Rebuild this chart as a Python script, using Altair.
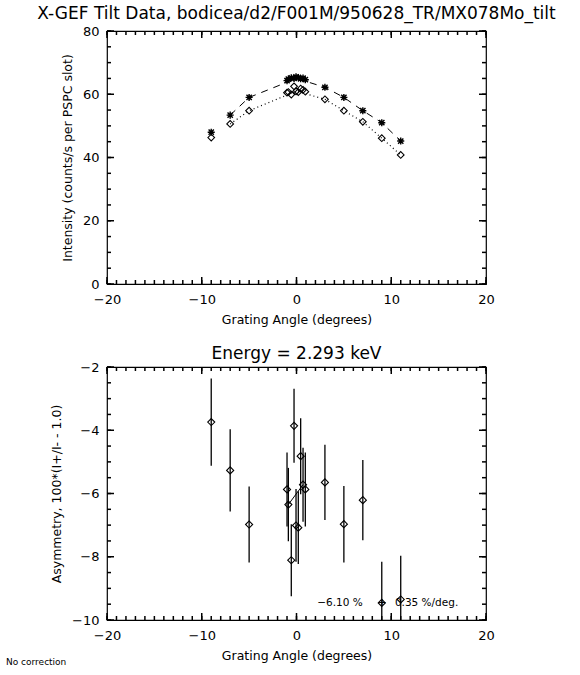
import altair as alt
import pandas as pd

# ---------------- data ----------------
ang = [-9, -7, -5, -1, -0.86, -0.55, -0.26, -0.05, 0.19, 0.44, 0.69, 0.93, 3, 5, 7, 9, 11]
i_minus = [48.0, 53.4, 59.0, 64.3, 64.8, 65.2, 65.0, 65.5, 65.3, 64.9, 65.1, 64.6, 62.2, 59.0, 54.8, 51.0, 45.2]
i_plus = [46.3, 50.6, 54.8, 60.5, 60.7, 59.9, 62.5, 60.9, 60.7, 61.8, 61.4, 60.8, 58.4, 54.8, 51.3, 46.1, 40.8]
asym = [-3.74, -5.27, -6.98, -5.87, -6.35, -8.11, -3.86, -7.01, -7.08, -4.82, -5.72, -5.87, -5.65, -6.97, -6.21, -9.46, -9.35]
asym_err = [1.38, 1.30, 1.20, 1.17, 1.16, 1.14, 1.17, 1.15, 1.15, 1.20, 1.17, 1.17, 1.19, 1.21, 1.27, 1.30, 1.38]

line_ang = [-7, -5, 0, 3, 5, 7, 9, 11]
line_minus = [53.4, 59.0, 65.0, 62.2, 59.0, 54.8, 51.0, 45.2]
line_plus = [50.6, 54.8, 61.0, 58.4, 54.8, 51.3, 46.1, 40.8]

seg_ang = [-0.86, 0.69]
seg_asym = [-6.35, -5.72]

ann_text = ["\u22126.10 %", "+", "0.35 %/deg."]
ann_x = [2.5, 8.9, 10.7]
ann_y = [-9.46, -9.46, -9.46]

x_major = [-20, -10, 0, 10, 20]
x_minor = list(range(-20, 21))
top_y_major = [0, 20, 40, 60, 80]
top_y_minor = list(range(0, 81, 5))
bot_y_major = [-10, -8, -6, -4, -2]
bot_y_minor = [-10 + 0.5 * k for k in range(17)]

TITLE_TOP = "X-GEF Tilt Data, bodicea/d2/F001M/950628_TR/MX078Mo_tilt"
TITLE_BOT = "Energy = 2.293 keV"
XTITLE = "Grating Angle (degrees)"
YTITLE_TOP = "Intensity (counts/s per PSPC slot)"
YTITLE_BOT = "Asymmetry, 100*(I+/I- - 1.0)"
NOTE = "No correction"

# ---------------- tables ----------------
pts = pd.DataFrame({"ang": ang, "imin": i_minus, "iplus": i_plus,
                    "asym": asym, "err": asym_err})
pts["lo"] = pts["asym"] - pts["err"]
pts["hi"] = pts["asym"] + pts["err"]
lines = pd.DataFrame({"ang": line_ang, "imin": line_minus, "iplus": line_plus})
seg = pd.DataFrame({"ang": seg_ang, "asym": seg_asym})
ann = pd.DataFrame({"t": ann_text, "ang": ann_x, "asym": ann_y})

W, H = 379, 253
FONT = "DejaVu Sans"
STAR = "M-1,0L1,0M0,-1L0,1M-0.75,-0.75L0.75,0.75M-0.75,0.75L0.75,-0.75"
MAJ, MIN = 7, 4
XD = [-20, 20]

xs = alt.Scale(domain=XD, nice=False, zero=False)


def tick_table(yd, ymaj, ymin):
    """Inward IDL-style ticks on all four sides (tick values from the arrays above)."""
    dy = (yd[1] - yd[0]) / H
    dx = (XD[1] - XD[0]) / W
    rows = []
    for vals, ln in [(x_major, MAJ), (x_minor, MIN)]:
        for v in vals:
            rows.append({"ang": float(v), "tx2": float(v), "yv": float(yd[0]), "ty2": float(yd[0] + ln * dy)})
            rows.append({"ang": float(v), "tx2": float(v), "yv": float(yd[1]), "ty2": float(yd[1] - ln * dy)})
    for vals, ln in [(ymaj, MAJ), (ymin, MIN)]:
        for v in vals:
            rows.append({"ang": float(XD[0]), "tx2": float(XD[0] + ln * dx), "yv": float(v), "ty2": float(v)})
            rows.append({"ang": float(XD[1]), "tx2": float(XD[1] - ln * dx), "yv": float(v), "ty2": float(v)})
    return pd.DataFrame(rows)


def axes_for(ytitle, ymaj):
    xa = alt.Axis(orient="bottom", values=x_major, domain=False, ticks=False, grid=False,
                  labelPadding=9, title=XTITLE, titlePadding=7, labelFlush=False)
    ya = alt.Axis(orient="left", values=ymaj, domain=False, ticks=False, grid=False,
                  labelPadding=8, title=ytitle, titlePadding=8)
    return xa, ya


# ---------------- top panel ----------------
YD_TOP = [0, 80]
ys_top = alt.Scale(domain=YD_TOP, nice=False, zero=False)
xa, ya = axes_for(YTITLE_TOP, top_y_major)


def XT():
    return alt.X("ang:Q", scale=xs, axis=xa)


def YT(f):
    return alt.Y(f"{f}:Q", scale=ys_top, axis=ya)


ticks_top = alt.Chart(tick_table(YD_TOP, top_y_major, top_y_minor)).mark_rule(
    color="black", strokeWidth=1.5).encode(x=XT(), x2="tx2:Q", y=YT("yv"), y2="ty2:Q")
top_minus_line = alt.Chart(lines).mark_line(color="black", strokeDash=[7, 6], strokeWidth=1).encode(
    x=XT(), y=YT("imin"))
top_plus_line = alt.Chart(lines).mark_line(color="black", strokeDash=[1, 3], strokeWidth=1.2).encode(
    x=XT(), y=YT("iplus"))
top_stars = alt.Chart(pts).mark_point(shape=STAR, filled=False, color="black", size=50,
                                      strokeWidth=1.4, opacity=1).encode(x=XT(), y=YT("imin"))
top_diam = alt.Chart(pts).mark_point(shape="diamond", filled=False, color="black", size=45,
                                     strokeWidth=1.1, opacity=1).encode(x=XT(), y=YT("iplus"))

top = alt.layer(ticks_top, top_minus_line, top_plus_line, top_stars, top_diam).properties(
    width=W, height=H,
    title=alt.TitleParams(TITLE_TOP, fontSize=17, font=FONT, fontWeight="normal",
                          anchor="middle", offset=2, color="black"))

# ---------------- bottom panel ----------------
YD_BOT = [-10, -2]
ys_bot = alt.Scale(domain=YD_BOT, nice=False, zero=False)
xa2, ya2 = axes_for(YTITLE_BOT, bot_y_major)


def XB():
    return alt.X("ang:Q", scale=xs, axis=xa2)


def YB(f):
    return alt.Y(f"{f}:Q", scale=ys_bot, axis=ya2)


ticks_bot = alt.Chart(tick_table(YD_BOT, bot_y_major, bot_y_minor)).mark_rule(
    color="black", strokeWidth=1.5).encode(x=XB(), x2="tx2:Q", y=YB("yv"), y2="ty2:Q")
bars = alt.Chart(pts).mark_rule(color="black", strokeWidth=1.3, clip=True).encode(
    x=XB(), y=YB("lo"), y2="hi:Q")
segline = alt.Chart(seg).mark_line(color="black", strokeWidth=1).encode(x=XB(), y=YB("asym"))
bot_diam = alt.Chart(pts).mark_point(shape="diamond", filled=False, color="black",
                                     size=50, strokeWidth=1.1, opacity=1).encode(
    x=XB(), y=YB("asym"))
ann_txt = alt.Chart(ann).mark_text(align="left", baseline="middle", font=FONT, fontSize=10.5,
                                   color="black", dx=-3).encode(
    x=XB(), y=YB("asym"), text="t:N")
note = alt.Chart(ann.head(1)).mark_text(align="left", baseline="middle", font=FONT, fontSize=9,
                                        color="black").encode(
    x=alt.value(-101), y=alt.value(H + 42), text=alt.value(NOTE))

bottom = alt.layer(ticks_bot, bars, segline, bot_diam, ann_txt, note).properties(
    width=W, height=H,
    title=alt.TitleParams(TITLE_BOT, fontSize=17, font=FONT, fontWeight="normal",
                          anchor="middle", offset=-2, color="black"))

chart = alt.vconcat(top, bottom, spacing=83, bounds="flush").properties(
    padding={"left": 5, "top": 4, "right": 5, "bottom": 5},
    background="white",
).configure_view(stroke="black", strokeWidth=1.2).configure_axis(
    labelFont=FONT, labelFontSize=13, labelColor="black",
    titleFont=FONT, titleFontSize=12.5, titleFontWeight="normal", titleColor="black",
)

chart.save("out.html", embed_options={"renderer": "svg", "actions": False})
